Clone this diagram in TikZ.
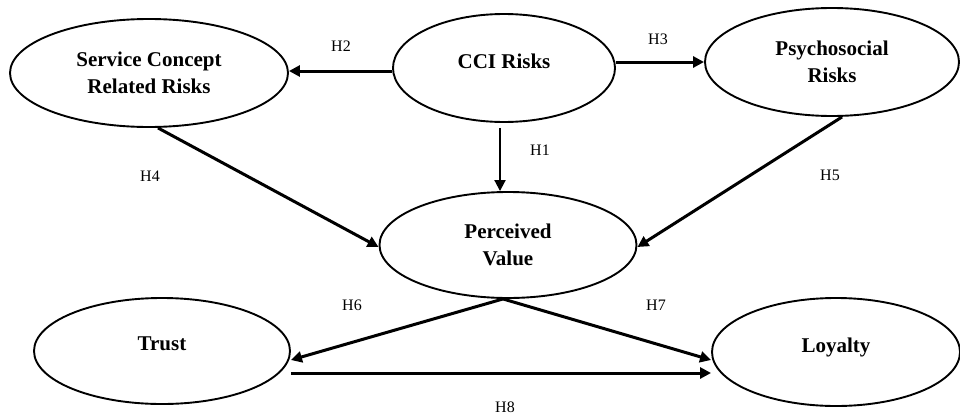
\documentclass[tikz,border=0pt]{standalone}
\usepackage{fontspec}
\setmainfont{Liberation Serif}
\usetikzlibrary{shapes.geometric, arrows.meta}

\tikzset{
    construct/.style={draw, ellipse, line width=1.9pt, inner sep=0pt,
        align=center, font=\fontsize{21}{27}\selectfont\bfseries},
    upper/.style={text depth=14pt},
    arr/.style={line width=3pt, -{Triangle[length=11pt, width=11pt]}},
    hyp/.style={font=\fontsize{16}{18}\selectfont}
}

\begin{document}
\begin{tikzpicture}[x=1pt, y=-1pt]
    \useasboundingbox (0,0) rectangle (960,415);

    % Constructs
    \node[construct, minimum width=278pt, minimum height=108pt] (scr) at (149,73)
        {Service Concept\\Related Risks};
    \node[construct, upper, minimum width=222pt, minimum height=108pt] (cci) at (504,68)
        {CCI Risks};
    \node[construct, minimum width=254pt, minimum height=108pt] (psy) at (832,62)
        {Psychosocial\\Risks};
    \node[construct, minimum width=257pt, minimum height=106pt] (pv) at (508,245)
        {Perceived\\Value};
    \node[construct, upper, minimum width=256pt, minimum height=106pt] (trust) at (162,351)
        {Trust};
    \node[construct, upper, minimum width=248pt, minimum height=108pt] (loyal) at (836,352)
        {Loyalty};

    % Hypotheses
    \draw[arr] ([yshift=-3pt]cci.west) -- ([yshift=2pt]scr.east);
    \draw[arr] ([yshift=6pt]cci.east) -- (psy.west);
    \draw[arr, line width=2pt] ([xshift=-4pt, yshift=-5pt]cci.south) -- ([xshift=-8pt]pv.north);
    \draw[arr] ([xshift=9pt]scr.south) -- ([yshift=-2pt]pv.west);
    \draw[arr] ([xshift=10pt]psy.south) -- ([yshift=-2pt]pv.east);
    \draw[arr] ([xshift=-5pt]pv.south) -- ([yshift=-9pt]trust.east);
    \draw[arr] ([xshift=-5pt]pv.south) -- ([yshift=-8pt]loyal.west);
    \draw[arr] ([yshift=-22pt]trust.east) -- ([yshift=-21pt]loyal.west);

    % Labels
    \node[hyp] (h1) at (540,150) {H1};
    \node[hyp] (h2) at (341,46) {H2};
    \node[hyp] (h3) at (658,39) {H3};
    \node[hyp] (h4) at (150,176) {H4};
    \node[hyp] (h5) at (830,175) {H5};
    \node[hyp] (h6) at (352,305) {H6};
    \node[hyp] (h7) at (656,305) {H7};
    \node[hyp] (h8) at (505,407) {H8};
\end{tikzpicture}
\end{document}
